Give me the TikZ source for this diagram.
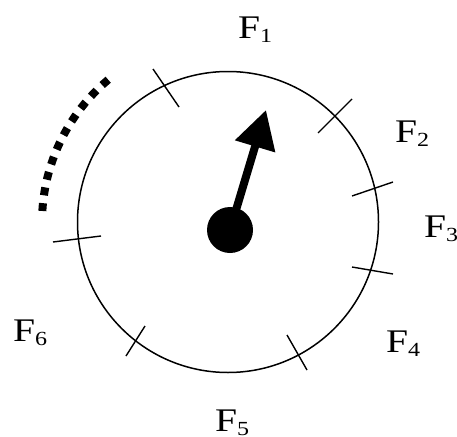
\documentclass[tikz,border=0pt]{standalone}
\usepackage{fontspec}
\usepackage{graphicx}
\setmainfont{Liberation Serif}
\usetikzlibrary{arrows.meta}
\tikzset{
  tick/.style={line width=1.4pt},
  flabel/.style={anchor=base west, inner sep=0pt, font=\fontsize{33}{40}\selectfont},
}
\newcommand{\fsub}[1]{\scalebox{1.2}[1]{F\raisebox{-4pt}{\fontsize{20}{22}\selectfont #1}}}
\begin{document}
\begin{tikzpicture}[x=1pt,y=-1pt]
\useasboundingbox (0,0) rectangle (457,436);
% dial
\node[circle, draw, line width=1.5pt, minimum size=301pt, inner sep=0pt] (dial) at (228,222) {};
% ticks
\draw[tick] (153,69) -- (179,107);
\draw[tick] (352,99) -- (318,133);
\draw[tick] (352,196) -- (393,182);
\draw[tick] (352,267) -- (393,274);
\draw[tick] (287,335) -- (307,370);
\draw[tick] (145,326) -- (126,356);
\draw[tick] (53,242) -- (101,236);
% dotted arc
\draw[line width=8pt, dash pattern=on 8pt off 7.9pt]
  ([shift={(-130.1:186)}]dial.center) arc[start angle=-130.1, end angle=-176.6, radius=186];
% hub and pointer
\node[circle, fill, minimum size=46pt, inner sep=0pt] (hub) at (230,230) {};
\coordinate (tip) at (266,110);
\draw[line width=8pt, -{Triangle[length=38pt,width=40pt]}] (hub.center) -- (tip);
% labels
\node[flabel] (f1) at (238,38) {\fsub{1}};
\node[flabel] (f2) at (395,142) {\fsub{2}};
\node[flabel] (f3) at (424,237) {\fsub{3}};
\node[flabel] (f4) at (386,352) {\fsub{4}};
\node[flabel] (f5) at (215,431) {\fsub{5}};
\node[flabel] (f6) at (13,341) {\fsub{6}};
\end{tikzpicture}
\end{document}
